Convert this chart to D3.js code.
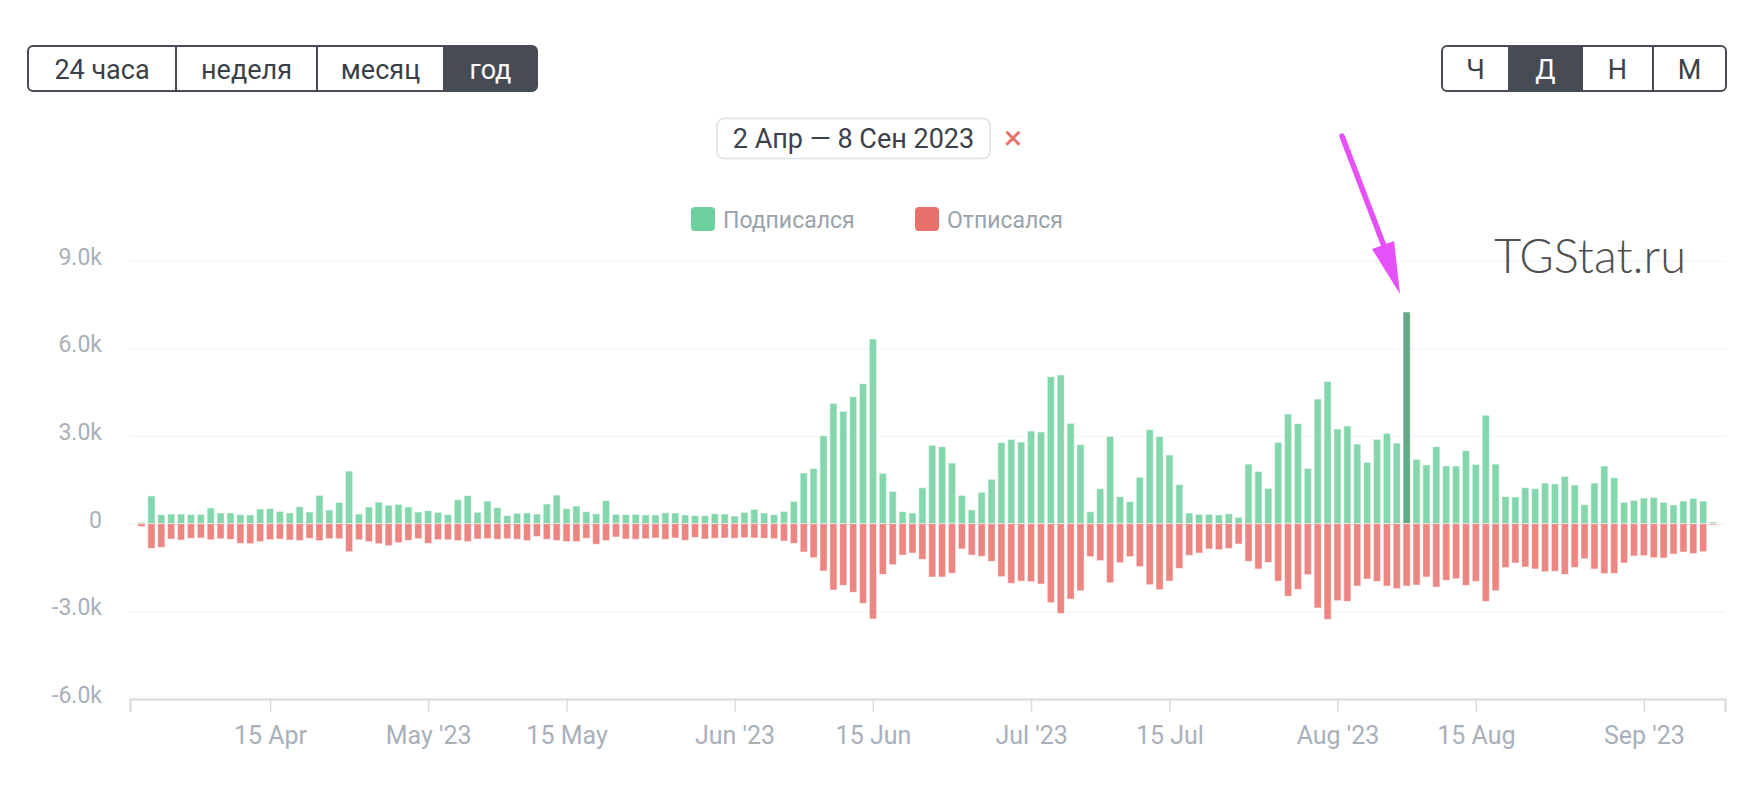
<!DOCTYPE html>
<html>
<head>
<meta charset="utf-8">
<script src="https://cdn.jsdelivr.net/npm/d3@7"></script>
<style>
  body { margin: 0; background: #fff; }
  svg { display: block; font-family: Roboto, "Noto Sans", sans-serif; }
</style>
</head>
<body>
<svg width="1764" height="806"></svg>
<script>
// daily joins / leaves, 2 Apr - 8 Sep 2023
var startDay = Date.UTC(2023, 3, 2);

var subscribed = [50, 950, 310, 330, 330, 310, 320, 540, 365, 365,
  310, 300, 500, 515, 420, 365, 580, 400, 970, 470,
  730, 1800, 330, 570, 740, 630, 660, 570, 400, 445,
  390, 310, 820, 960, 390, 775, 550, 275, 355, 365,
  330, 675, 980, 515, 605, 410, 340, 790, 320, 310,
  320, 300, 300, 375, 365, 300, 275, 275, 340, 330,
  260, 390, 490, 365, 310, 420, 765, 1735, 1885, 3010,
  4120, 3845, 4345, 4790, 6320, 1725, 1105, 410, 365, 1230,
  2680, 2635, 2075, 970, 470, 1075, 1520, 2775, 2885, 2795,
  3170, 3140, 5030, 5090, 3435, 2705, 410, 1200, 2990, 925,
  755, 1585, 3220, 2980, 2350, 1335, 365, 320, 320, 300,
  340, 215, 2040, 1790, 1210, 2785, 3755, 3425, 1895, 4265,
  4870, 3240, 3345, 2725, 2100, 2885, 3090, 2760, 7245, 2200,
  2010, 2635, 1975, 1975, 2500, 2030, 3710, 2040, 925, 915,
  1230, 1200, 1390, 1360, 1620, 1325, 650, 1390, 1975, 1575,
  730, 800, 880, 900, 730, 640, 775, 865, 775, 55];

var unsubscribed = [100, 845, 810, 525, 560, 500, 490, 550, 515, 535,
  675, 685, 615, 550, 525, 560, 580, 500, 580, 515,
  515, 960, 550, 615, 685, 755, 650, 570, 515, 675,
  550, 550, 580, 615, 525, 515, 535, 515, 535, 580,
  435, 535, 580, 615, 615, 500, 705, 580, 455, 525,
  535, 515, 490, 535, 490, 570, 470, 525, 500, 490,
  500, 480, 490, 500, 515, 595, 675, 970, 1165, 1620,
  2270, 2110, 2350, 2725, 3260, 1735, 1405, 1075, 1005, 1220,
  1825, 1825, 1700, 865, 1075, 1120, 1290, 1815, 2040, 1965,
  1985, 2065, 2705, 3070, 2580, 2295, 1130, 1265, 2020, 1335,
  1130, 1470, 2090, 2260, 1965, 1530, 1085, 1005, 865, 890,
  845, 695, 1290, 1550, 1325, 1965, 2485, 2250, 1745, 2885,
  3280, 2635, 2660, 2135, 1895, 1975, 2135, 2225, 2135, 2100,
  1825, 2170, 1940, 1885, 2110, 1975, 2660, 2295, 1505, 1345,
  1485, 1550, 1645, 1630, 1735, 1495, 1200, 1550, 1710, 1700,
  1345, 1105, 1095, 1165, 1175, 1040, 970, 1025, 960, 45];

var highlightIndex = 128; // 8 Aug

var seriesNames = ["Подписался", "Отписался"];
var seriesColors = ["#6fd09f", "#e8716c"];

var xTickDates = [Date.UTC(2023, 3, 15), Date.UTC(2023, 4, 1), Date.UTC(2023, 4, 15),
  Date.UTC(2023, 5, 1), Date.UTC(2023, 5, 15), Date.UTC(2023, 6, 1), Date.UTC(2023, 6, 15),
  Date.UTC(2023, 7, 1), Date.UTC(2023, 7, 15), Date.UTC(2023, 8, 1)];
var xTickLabels = ["15 Apr", "May '23", "15 May", "Jun '23", "15 Jun",
  "Jul '23", "15 Jul", "Aug '23", "15 Aug", "Sep '23"];

var yTicks = [-6000, -3000, 0, 3000, 6000, 9000];
var yTickLabels = ["-6.0k", "-3.0k", "0", "3.0k", "6.0k", "9.0k"];

var periodButtons = ["24 часа", "неделя", "месяц", "год"];
var stepButtons = ["Ч", "Д", "Н", "М"];
var dateRange = "2 Апр — 8 Сен 2023";

var svg = d3.select("svg");

var plotLeft = 130, plotRight = 1725, plotTop = 260.7, plotBottom = 699;
var barWidth = 7.2;

var x = d3.scaleUtc()
  .domain([Date.UTC(2023, 2, 31, 20), Date.UTC(2023, 8, 9, 5)])
  .range([plotLeft, plotRight]);
var y = d3.scaleLinear().domain([-6000, 9000]).range([plotBottom, plotTop]);

function dayOf(i) { return new Date(startDay + i * 864e5); }

// grid
svg.append("g")
  .attr("class", "grid")
  .attr("transform", "translate(" + plotLeft + ",0)")
  .call(d3.axisRight(y).tickValues(yTicks.slice(1)).tickFormat("").tickSize(plotRight - plotLeft))
  .call(function (g) { g.select(".domain").remove(); })
  .selectAll("line").attr("stroke", "#f3f4f8").attr("stroke-width", 1.2);

// y labels
var yAxis = svg.append("g")
  .attr("transform", "translate(102,-4)")
  .call(d3.axisLeft(y).tickValues(yTicks).tickSize(0).tickPadding(0)
    .tickFormat(function (d, i) { return yTickLabels[i]; }));
yAxis.select(".domain").remove();
yAxis.selectAll("text").attr("fill", "#a9b0b9").style("font-size", "23px")
  .style("font-family", "Roboto, sans-serif");

// bars
svg.append("g").selectAll("rect")
  .data(subscribed)
  .join("rect")
  .attr("x", function (d, i) { return x(dayOf(i)) - barWidth / 2; })
  .attr("y", function (d) { return y(d); })
  .attr("width", barWidth)
  .attr("height", function (d) { return y(0) - y(d); })
  .attr("fill", function (d, i) { return i === highlightIndex ? "#64a886" : seriesColors[0]; })
  .attr("fill-opacity", function (d, i) { return i === highlightIndex ? 1 : 0.85; })
  .attr("stroke", "rgba(255,255,255,0.55)")
  .attr("stroke-width", 1);

svg.append("g").selectAll("rect")
  .data(unsubscribed)
  .join("rect")
  .attr("x", function (d, i) { return x(dayOf(i)) - barWidth / 2; })
  .attr("y", y(0))
  .attr("width", barWidth)
  .attr("height", function (d) { return y(-d) - y(0); })
  .attr("fill", seriesColors[1])
  .attr("fill-opacity", 0.85)
  .attr("stroke", "rgba(255,255,255,0.55)")
  .attr("stroke-width", 1);

// x axis
var xAxis = svg.append("g")
  .attr("transform", "translate(0," + plotBottom + ")")
  .call(d3.axisBottom(x).tickValues(xTickDates.map(function (d) { return new Date(d); }))
    .tickSizeOuter(0).tickSize(13).tickPadding(14)
    .tickFormat(function (d, i) { return xTickLabels[i]; }));
xAxis.select(".domain").attr("stroke", "#dedfe3").attr("stroke-width", 2.5);
xAxis.selectAll(".tick line").attr("stroke", "#d8dbdf").attr("stroke-width", 1.5);
xAxis.selectAll("text").attr("fill", "#a9b0b9").style("font-size", "25px")
  .style("font-family", "Roboto, sans-serif");

// legend
var legendX = [691, 915];
seriesNames.forEach(function (name, i) {
  svg.append("rect")
    .attr("x", legendX[i]).attr("y", 207)
    .attr("width", 24).attr("height", 24).attr("rx", 4)
    .attr("fill", seriesColors[i]);
  svg.append("text")
    .attr("x", legendX[i] + 32).attr("y", 228)
    .attr("fill", "#9aa3ab")
    .attr("font-size", "23px")
    .text(name);
});

// button groups
function buttonGroup(labels, edges, active) {
  var g = svg.append("g");
  var left = edges[0], right = edges[edges.length - 1];
  var clipId = "clip" + left;
  g.append("clipPath").attr("id", clipId)
    .append("rect").attr("x", left).attr("y", 46).attr("width", right - left).attr("height", 45).attr("rx", 5);
  g.append("rect")
    .attr("x", edges[active]).attr("y", 46)
    .attr("width", edges[active + 1] - edges[active]).attr("height", 45)
    .attr("fill", "#474b54")
    .attr("clip-path", "url(#" + clipId + ")");
  g.append("rect")
    .attr("x", left).attr("y", 46).attr("width", right - left).attr("height", 45).attr("rx", 5)
    .attr("fill", "none").attr("stroke", "#474b54").attr("stroke-width", 2);
  edges.slice(1, -1).forEach(function (e) {
    g.append("line").attr("x1", e).attr("x2", e).attr("y1", 46).attr("y2", 91)
      .attr("stroke", "#474b54").attr("stroke-width", 2);
  });
  labels.forEach(function (t, i) {
    g.append("text")
      .attr("x", (edges[i] + edges[i + 1]) / 2).attr("y", 78.5)
      .attr("text-anchor", "middle")
      .attr("font-size", "27px")
      .attr("fill", i === active ? "#ffffff" : "#3b3f47")
      .text(t);
  });
}
buttonGroup(periodButtons, [28, 176, 317, 444, 537], 3);
buttonGroup(stepButtons, [1442, 1509, 1582, 1653, 1726], 1);

// date range badge
svg.append("rect")
  .attr("x", 717).attr("y", 118.5).attr("width", 273).attr("height", 40).attr("rx", 7)
  .attr("fill", "#fff").attr("stroke", "#dde1e6").attr("stroke-width", 1.5);
svg.append("text")
  .attr("x", 853.5).attr("y", 148).attr("text-anchor", "middle")
  .attr("font-size", "27px").attr("fill", "#3d4149")
  .text(dateRange);
svg.append("text")
  .attr("x", 1013).attr("y", 149).attr("text-anchor", "middle")
  .attr("font-size", "34px").attr("fill", "#e8706b")
  .text("×");

// watermark
svg.append("text")
  .attr("x", 1494).attr("y", 273)
  .attr("font-size", "47px").attr("font-weight", 300).attr("fill", "#4f4f4f")
  .style("font-family", "Lato, Roboto, sans-serif")
  .text("TGStat.ru");

// annotation arrow
svg.append("line")
  .attr("x1", 1342).attr("y1", 136).attr("x2", 1384).attr("y2", 246)
  .attr("stroke", "#e650f8").attr("stroke-width", 5.5).attr("stroke-linecap", "round");
svg.append("polygon")
  .attr("points", "1372,249 1394,241 1400,294")
  .attr("fill", "#e650f8");
</script>
</body>
</html>
